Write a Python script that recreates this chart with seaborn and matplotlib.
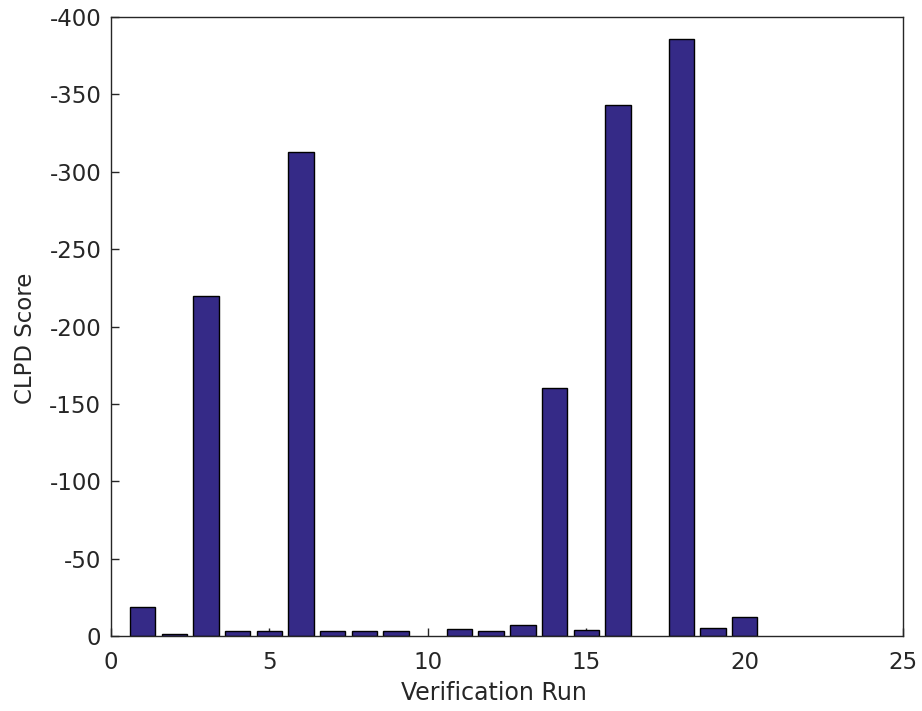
import matplotlib
matplotlib.use("Agg")
import matplotlib.pyplot as plt
import seaborn as sns
import pandas as pd

runs = list(range(1, 21))
clpd = [-18.5, -1.5, -219.5, -3.2, -3.2, -312.5, -3.2, -3.2, -3.2, 0.0,
        -4.5, -3.2, -6.8, -160.0, -4.0, -343.0, 0.0, -386.0, -5.0, -12.3]
xticks = [0, 5, 10, 15, 20, 25]
yticks = [0, -50, -100, -150, -200, -250, -300, -350, -400]

sns.set_style("white")
plt.rcParams['font.family'] = ['DejaVu Sans']

df = pd.DataFrame({"run": runs, "score": clpd})

fig = plt.figure(figsize=(9.22, 7.11), dpi=100)
ax = fig.add_axes([111/922, 1 - 636/711, (903-111)/922, (636-17)/711])

sns.barplot(data=df, x="run", y="score", native_scale=True, width=0.8,
            color="#352a87", saturation=1, edgecolor="black", linewidth=1.0,
            ax=ax, errorbar=None)

# zero-height bars are not drawn
for p in ax.patches:
    if abs(p.get_height()) < 1e-9:
        p.set_visible(False)

ax.set_xlim(0, 25)
ax.set_ylim(0, -400)
ax.set_xticks(xticks)
ax.set_xticklabels([str(t) for t in xticks])
ax.set_yticks(yticks)
ax.set_yticklabels([str(t) for t in yticks])

tc = "#262626"
ax.set_xlabel("Verification Run", fontsize=17, color=tc)
ax.set_ylabel("CLPD Score", fontsize=16.5, color=tc)
ax.xaxis.set_label_coords(0.483, -0.072)
ax.yaxis.set_label_coords(-0.094, 0.481)
ax.tick_params(axis="both", direction="in", length=6, width=1, colors=tc,
               labelsize=16.5, labelcolor=tc, left=True, bottom=True,
               top=False, right=False)
ax.tick_params(axis="x", pad=11)
ax.tick_params(axis="y", pad=7)
for s in ax.spines.values():
    s.set_visible(True)
    s.set_color(tc)
    s.set_linewidth(1)

fig.savefig("out.png", dpi=100)
